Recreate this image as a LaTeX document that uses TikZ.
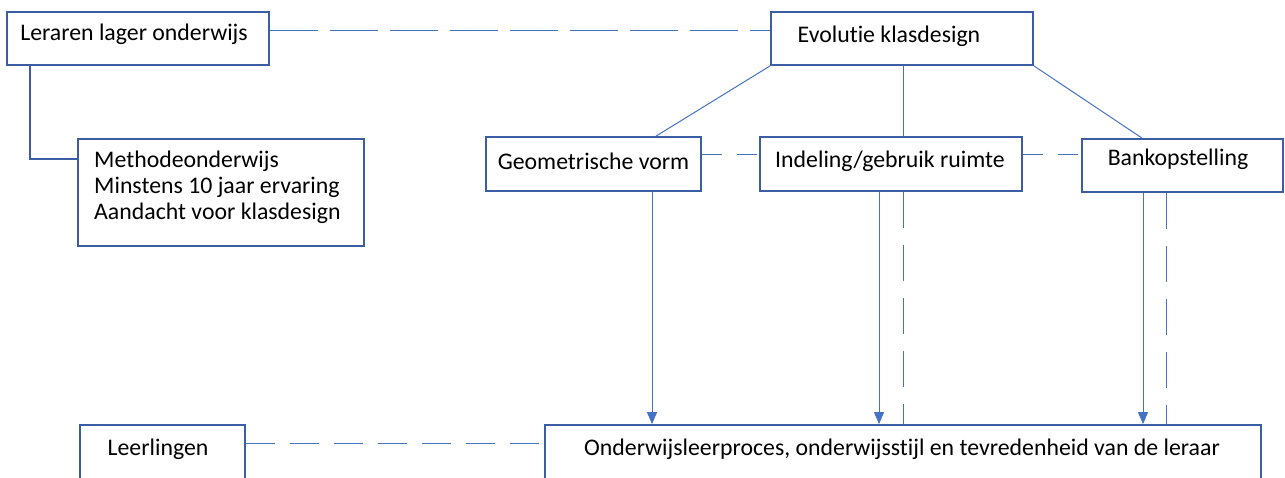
\documentclass[tikz,border=0pt]{standalone}
\usepackage{fontspec}
\setmainfont{Carlito}[Ligatures=NoCommon]
\usetikzlibrary{arrows.meta,calc}
\definecolor{boxblue}{HTML}{3A5DA3}
\definecolor{lineblue}{HTML}{4472C4}
\tikzset{
  box/.style={draw=boxblue, line width=1.8pt, fill=white, inner sep=0pt},
  lbl/.style={inner sep=0pt, font=\fontsize{23.8}{28}\selectfont, text=black},
  conn/.style={draw=lineblue, line width=1pt},
  dashconn/.style={draw=lineblue, line width=1pt, dash pattern=on #1},
  arr/.style={conn, -{Triangle[length=12pt,width=10pt]}},
}
\begin{document}
\begin{tikzpicture}[x=1pt,y=1pt]
\useasboundingbox (0,0) rectangle (1285,477);
\clip (0,0) rectangle (1285,477);
% boxes
\node[box, minimum width=262pt, minimum height=53pt] (A) at (138,438.5) {};
\node[box, minimum width=286pt, minimum height=107pt] (B) at (221,284.5) {};
\node[box, minimum width=262pt, minimum height=53pt] (C) at (902,438.5) {};
\node[box, minimum width=215pt, minimum height=54pt] (D) at (593.5,313) {};
\node[box, minimum width=262pt, minimum height=54pt] (E) at (891,313) {};
\node[box, minimum width=201pt, minimum height=53pt] (F) at (1182.5,311.5) {};
\node[box, minimum width=716pt, minimum height=60pt] (G) at (903,22) {};
\node[box, minimum width=165pt, minimum height=60pt] (H) at (162.5,22) {};
% texts
\node[lbl] (tA) at (134,443) {Leraren lager onderwijs};
\node[lbl, anchor=west] (tB1) at (94,316) {Methodeonderwijs};
\node[lbl, anchor=west] (tB2) at (94,290) {Minstens 10 jaar ervaring};
\node[lbl, anchor=west] (tB3) at (94,264) {Aandacht voor klasdesign};
\node[lbl] (tC) at (889,441) {Evolutie klasdesign};
\node[lbl] (tD) at (593.5,316) {Geometrische vorm};
\node[lbl] (tE) at (890,316) {Indeling/gebruik ruimte};
\node[lbl] (tF) at (1178,318) {Bankopstelling};
\node[lbl] (tG) at (902,28) {Onderwijsleerproces, onderwijsstijl en tevredenheid van de leraar};
\node[lbl] (tH) at (158,28) {Leerlingen};
% connectors
\draw[dashconn={48pt off 12pt}] ($(A.east)+(0,7.5)$) -- ($(C.west)+(0,7.5)$);
\coordinate (bin) at ($(B.north west)+(0,-21)$);
\draw[draw=boxblue, line width=1.8pt] (A.south west) ++(24,0) |- (bin);
\draw[conn] (C.south west) -- ($(D.north)+(62.5,0)$);
\draw[conn] ($(C.south)+(1.5,0)$) -- ($(E.north)+(12.5,0)$);
\draw[conn] (C.south east) -- ($(F.north)+(-40.5,0)$);
\draw[dashconn={20pt off 15pt}] ($(D.east)+(0,9)$) -- ($(E.west)+(0,9)$);
\draw[dashconn={20pt off 15pt}] ($(E.east)+(0,9)$) -- ($(F.west)+(0,10.5)$);
\draw[arr] ($(D.south)+(58.5,0)$) -- ($(G.north)+(-251,0)$);
\draw[arr] ($(E.south)+(-12,0)$) -- ($(G.north)+(-24,0)$);
\draw[dashconn={36pt off 17pt}] ($(E.south)+(12.5,0)$) -- ($(G.north)+(0.5,0)$);
\draw[arr] ($(F.south)+(-39.5,0)$) -- ($(G.north)+(240,0)$);
\draw[dashconn={36pt off 17pt}] ($(F.south)+(-16.5,0)$) -- ($(G.north)+(263,0)$);
\draw[dashconn={29pt off 15pt}] ($(H.east)+(0,12)$) -- ($(G.west)+(0,12)$);
\end{tikzpicture}
\end{document}
